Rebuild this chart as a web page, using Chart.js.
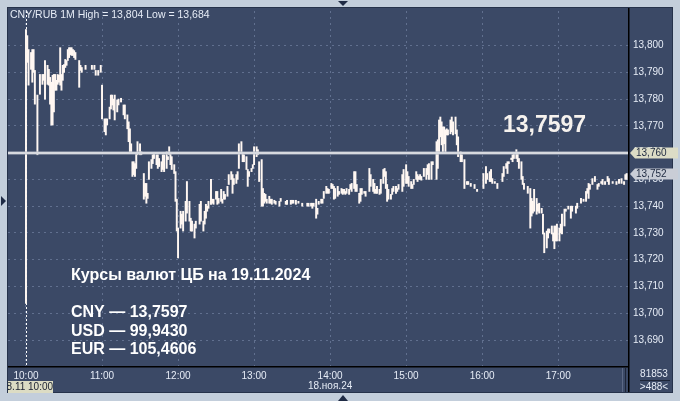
<!DOCTYPE html>
<html>
<head>
<meta charset="utf-8">
<script src="https://cdn.jsdelivr.net/npm/chart.js@4.4.1/dist/chart.umd.min.js"></script>
<style>
  html, body { margin: 0; padding: 0; background: #c3cedb; }
  canvas { display: block; }
</style>
</head>
<body>
<canvas id="chart" width="680" height="401"></canvas>
<script>
// minutes after 10:00, 1M bars of CNY/RUB (low / high)
const minutes = [0,1,2,4,5,6,7,9,11,13,14,15,17,18,19,20,21,22,23,24,25,26,27,28,29,30,31,32,33,34,35,36,37,38,39,42,43,44,47,52,54,55,57,59,
  60,62,63,64,66,67,68,69,70,72,73,75,77,78,80,81,82,83,84,85,86,87,88,90,91,93,94,95,96,97,99,100,101,103,104,105,107,108,109,111,112,113,114,115,117,118,119,
  120,122,123,124,126,127,129,130,131,133,134,137,138,140,141,142,143,144,146,147,148,150,151,152,154,155,156,157,159,160,162,163,164,166,167,168,170,171,172,174,175,176,178,179,
  180,182,183,184,186,187,188,189,190,192,193,194,196,197,200,201,205,206,209,210,211,213,215,218,222,223,225,226,227,229,230,231,233,234,235,237,238,239,
  241,242,243,244,246,247,249,250,251,252,253,255,256,257,259,260,261,263,264,265,267,268,271,272,274,275,276,277,279,280,282,283,284,285,286,288,289,290,292,293,294,297,298,
  300,301,302,304,305,306,308,309,310,311,312,314,316,317,318,320,321,324,325,326,327,328,329,330,331,332,333,335,336,337,339,340,341,343,344,346,348,349,351,354,356,
  361,363,364,366,367,368,370,372,376,377,379,380,381,383,384,385,387,388,389,391,392,393,396,398,399,400,401,403,404,405,407,408,409,411,412,413,415,416,417,418,419,
  421,422,423,425,426,428,430,431,434,435,438,440,442,443,444,445,447,449,451,452,454,455,457,459,460,463,466,468,470,472,473,474];

const lows = [13.7037,13.7937,13.7852,13.7911,13.7863,13.7900,13.7781,13.7592,13.7818,13.7855,13.7870,13.7800,13.7855,13.7852,13.7781,13.7703,13.7703,13.7752,13.7833,13.7833,13.7855,13.7863,13.7852,13.7833,13.7870,13.7900,13.7918,13.7926,13.7944,13.7955,13.7966,13.7963,13.7963,13.7955,13.7948,13.7844,13.7907,13.7900,13.7911,13.7911,13.7911,13.7889,13.7889,13.7900,
  13.7726,13.7678,13.7666,13.7703,13.7726,13.7763,13.7778,13.7759,13.7722,13.7752,13.7778,13.7789,13.7741,13.7726,13.7689,13.7641,13.7603,13.7596,13.7511,13.7518,13.7511,13.7541,13.7592,13.7592,13.7592,13.7426,13.7437,13.7411,13.7429,13.7500,13.7541,13.7559,13.7578,13.7555,13.7541,13.7548,13.7529,13.7537,13.7529,13.7541,13.7574,13.7592,13.7555,13.7537,13.7522,13.7418,13.7307,
  13.7207,13.7318,13.7333,13.7307,13.7344,13.7374,13.7344,13.7307,13.7307,13.7281,13.7318,13.7333,13.7344,13.7307,13.7333,13.7355,13.7381,13.7392,13.7407,13.7411,13.7407,13.7426,13.7407,13.7411,13.7418,13.7411,13.7426,13.7426,13.7437,13.7481,13.7500,13.7448,13.7481,13.7485,13.7500,13.7541,13.7596,13.7566,13.7566,13.7537,13.7474,13.7511,13.7529,13.7541,
  13.7555,13.7585,13.7592,13.7492,13.7400,13.7400,13.7411,13.7418,13.7411,13.7411,13.7411,13.7407,13.7411,13.7407,13.7400,13.7418,13.7407,13.7407,13.7407,13.7411,13.7411,13.7407,13.7411,13.7400,13.7400,13.7400,13.7400,13.7392,13.7400,13.7355,13.7370,13.7407,13.7411,13.7411,13.7429,13.7448,13.7448,13.7448,
  13.7466,13.7466,13.7426,13.7429,13.7437,13.7444,13.7448,13.7444,13.7448,13.7444,13.7448,13.7444,13.7463,13.7455,13.7466,13.7455,13.7455,13.7411,13.7418,13.7444,13.7448,13.7437,13.7455,13.7474,13.7455,13.7448,13.7448,13.7448,13.7444,13.7448,13.7485,13.7511,13.7466,13.7418,13.7426,13.7426,13.7444,13.7455,13.7448,13.7455,13.7463,13.7455,13.7474,
  13.7485,13.7485,13.7474,13.7466,13.7466,13.7481,13.7500,13.7492,13.7500,13.7500,13.7497,13.7511,13.7500,13.7518,13.7500,13.7500,13.7555,13.7500,13.7541,13.7603,13.7659,13.7629,13.7603,13.7633,13.7603,13.7666,13.7666,13.7670,13.7678,13.7666,13.7670,13.7629,13.7585,13.7566,13.7566,13.7466,13.7481,13.7481,13.7474,13.7466,13.7455,
  13.7466,13.7485,13.7500,13.7492,13.7492,13.7485,13.7485,13.7466,13.7492,13.7511,13.7541,13.7522,13.7559,13.7574,13.7566,13.7578,13.7578,13.7566,13.7541,13.7500,13.7481,13.7463,13.7448,13.7318,13.7363,13.7374,13.7381,13.7370,13.7381,13.7374,13.7374,13.7296,13.7226,13.7244,13.7281,13.7300,13.7296,13.7270,13.7241,13.7270,13.7270,
  13.7270,13.7300,13.7296,13.7326,13.7381,13.7389,13.7355,13.7381,13.7374,13.7392,13.7411,13.7418,13.7418,13.7448,13.7429,13.7463,13.7481,13.7492,13.7463,13.7474,13.7485,13.7481,13.7481,13.7492,13.7481,13.7485,13.7481,13.7485,13.7485,13.7481,13.7500,13.7500];

const highs = [13.8060,13.8037,13.7985,13.7974,13.7985,13.7985,13.7907,13.7815,13.7892,13.7892,13.7892,13.7944,13.7926,13.7911,13.7881,13.7863,13.7889,13.7892,13.7892,13.7870,13.7892,13.7889,13.7992,13.7892,13.7926,13.7929,13.7948,13.7944,13.7985,13.7992,13.7992,13.7992,13.7985,13.7981,13.7974,13.7944,13.7926,13.7918,13.7926,13.7926,13.7926,13.7907,13.7907,13.7926,
  13.7852,13.7726,13.7726,13.7726,13.7770,13.7815,13.7815,13.7800,13.7815,13.7796,13.7800,13.7803,13.7778,13.7778,13.7741,13.7715,13.7689,13.7633,13.7566,13.7566,13.7559,13.7596,13.7641,13.7633,13.7603,13.7522,13.7485,13.7485,13.7448,13.7566,13.7574,13.7592,13.7596,13.7592,13.7592,13.7578,13.7566,13.7592,13.7592,13.7603,13.7585,13.7622,13.7596,13.7585,13.7555,13.7529,13.7426,
  13.7318,13.7381,13.7370,13.7381,13.7418,13.7492,13.7418,13.7355,13.7344,13.7333,13.7344,13.7407,13.7418,13.7344,13.7381,13.7407,13.7400,13.7418,13.7500,13.7426,13.7426,13.7455,13.7455,13.7429,13.7463,13.7426,13.7455,13.7444,13.7474,13.7518,13.7529,13.7518,13.7503,13.7518,13.7529,13.7633,13.7641,13.7596,13.7592,13.7585,13.7537,13.7529,13.7541,13.7555,
  13.7622,13.7622,13.7611,13.7566,13.7574,13.7466,13.7448,13.7444,13.7426,13.7437,13.7426,13.7426,13.7422,13.7418,13.7418,13.7429,13.7418,13.7422,13.7422,13.7422,13.7422,13.7422,13.7418,13.7411,13.7411,13.7411,13.7411,13.7411,13.7411,13.7426,13.7392,13.7418,13.7426,13.7426,13.7455,13.7474,13.7466,13.7463,
  13.7485,13.7481,13.7474,13.7466,13.7474,13.7455,13.7466,13.7463,13.7463,13.7455,13.7466,13.7463,13.7481,13.7485,13.7529,13.7529,13.7481,13.7448,13.7466,13.7466,13.7455,13.7455,13.7541,13.7518,13.7500,13.7485,13.7463,13.7474,13.7463,13.7500,13.7537,13.7541,13.7529,13.7481,13.7463,13.7444,13.7466,13.7474,13.7474,13.7466,13.7481,13.7518,13.7537,
  13.7555,13.7529,13.7511,13.7492,13.7481,13.7500,13.7529,13.7518,13.7511,13.7518,13.7511,13.7541,13.7541,13.7555,13.7559,13.7566,13.7566,13.7641,13.7648,13.7722,13.7733,13.7715,13.7696,13.7696,13.7685,13.7689,13.7685,13.7722,13.7733,13.7715,13.7733,13.7685,13.7659,13.7603,13.7592,13.7574,13.7492,13.7492,13.7485,13.7481,13.7463,
  13.7522,13.7548,13.7522,13.7529,13.7537,13.7503,13.7492,13.7485,13.7522,13.7548,13.7559,13.7566,13.7566,13.7578,13.7592,13.7596,13.7611,13.7596,13.7578,13.7566,13.7511,13.7485,13.7474,13.7466,13.7429,13.7418,13.7463,13.7429,13.7407,13.7411,13.7392,13.7370,13.7300,13.7307,13.7315,13.7315,13.7326,13.7300,13.7326,13.7326,13.7333,
  13.7318,13.7333,13.7370,13.7389,13.7389,13.7400,13.7400,13.7400,13.7400,13.7411,13.7429,13.7426,13.7455,13.7466,13.7485,13.7481,13.7503,13.7511,13.7481,13.7485,13.7492,13.7500,13.7492,13.7511,13.7503,13.7492,13.7492,13.7500,13.7503,13.7492,13.7518,13.7522];

const hourTicks = [0, 60, 120, 180, 240, 300, 360, 420];
const hourLabels = ['10:00', '11:00', '12:00', '13:00', '14:00', '15:00', '16:00', '17:00'];
const priceTicks = [13.69, 13.70, 13.71, 13.72, 13.73, 13.74, 13.75, 13.76, 13.77, 13.78, 13.79, 13.80];

const cbrRate = 13.7597;
const lastPrice = 13.752;
const headerText = 'CNY/RUB 1M High = 13,804 Low = 13,684';
const ratesTitle = 'Курсы валют ЦБ на 19.11.2024';
const ratesLines = ['CNY — 13,7597', 'USD — 99,9430', 'EUR — 105,4606'];
const dateLabel = '18.ноя.24';
const cursorLabel = '18.11 10:00';
const volumeText = '81853';
const countText = '>488<';

const fmt = v => v.toFixed(3).replace('.', ',');
const FONT = '"Liberation Sans", Arial, sans-serif';

const terminal = {
    id: 'terminal',
    beforeDraw(chart) {
        const c = chart.ctx;
        c.save();
        c.fillStyle = '#c3cedb';
        c.fillRect(0, 0, 680, 401);
        c.fillStyle = '#3b4966';
        c.fillRect(8, 8, 664, 384);
        c.strokeStyle = '#26324a';
        c.lineWidth = 1;
        c.strokeRect(7.5, 7.5, 665, 385);
        // small arrows on the frame
        c.fillStyle = '#1f2b45';
        c.beginPath(); c.moveTo(338, 1); c.lineTo(348, 1); c.lineTo(343, 6); c.fill();
        c.beginPath(); c.moveTo(338, 401); c.lineTo(348, 401); c.lineTo(343, 395); c.fill();
        c.beginPath(); c.moveTo(1, 196); c.lineTo(6, 201); c.lineTo(1, 206); c.fill();
        c.restore();
    },
    beforeDatasetsDraw(chart) {
        const c = chart.ctx, a = chart.chartArea;
        const x0 = Math.round(chart.scales.x.getPixelForValue(0)) + 0.5;
        c.save();
        c.strokeStyle = '#ffffff';
        c.lineWidth = 1;
        c.setLineDash([2, 2]);
        c.beginPath(); c.moveTo(x0, a.top); c.lineTo(x0, a.bottom); c.stroke();
        c.restore();
    },
    afterDatasetsDraw(chart) {
        const c = chart.ctx, a = chart.chartArea;
        const ys = chart.scales.y, xs = chart.scales.x;
        c.save();

        // CBR rate line
        const yr = Math.round(ys.getPixelForValue(cbrRate));
        c.fillStyle = '#aeb3bf';
        c.fillRect(a.left, yr - 1.5, a.right - a.left, 3);
        c.fillStyle = '#ffffff';
        c.fillRect(a.left, yr - 0.5, a.right - a.left, 1);

        // frame lines
        c.fillStyle = '#000000';
        c.fillRect(a.right, 8, 1.5, 384);
        c.fillRect(8, a.bottom, a.right - 8, 1.5);
        c.fillStyle = '#5c6985';
        c.fillRect(a.right - 6, a.bottom + 2, 1, 392 - a.bottom - 2);
        c.fillStyle = '#1d2538';
        c.fillRect(a.right - 3, a.bottom + 2, 1, 392 - a.bottom - 2);

        // header
        c.fillStyle = '#e6ecf6';
        c.font = '10.5px ' + FONT;
        c.textBaseline = 'middle';
        c.textAlign = 'left';
        c.fillText(headerText, 10, 15);

        // big rate label
        c.fillStyle = '#f6f2ee';
        c.font = 'bold 23px ' + FONT;
        c.textBaseline = 'alphabetic';
        c.fillText(cbrRate.toFixed(4).replace('.', ','), 503, 132);

        // rates block
        c.fillStyle = '#ffffff';
        c.font = 'bold 16px ' + FONT;
        c.fillText(ratesTitle, 71, 280);
        ratesLines.forEach((t, i) => c.fillText(t, 71, 317 + i * 18.5));

        // right-side price tags
        const tag = (v, fill) => {
            const y = Math.round(ys.getPixelForValue(v));
            c.fillStyle = fill;
            c.beginPath();
            c.moveTo(a.right + 2, y);
            c.lineTo(a.right + 7, y - 5.5);
            c.lineTo(678, y - 5.5);
            c.lineTo(678, y + 5.5);
            c.lineTo(a.right + 7, y + 5.5);
            c.closePath();
            c.fill();
            c.fillStyle = '#1e2940';
            c.font = '10px ' + FONT;
            c.textBaseline = 'middle';
            c.fillText(fmt(v), a.right + 8, y + 0.5);
        };
        tag(lastPrice, '#c9cdd6');
        tag(cbrRate, '#dcdcc6');

        // bottom strip labels
        c.textBaseline = 'middle';
        c.font = '10px ' + FONT;
        c.fillStyle = '#e6ecf6';
        c.textAlign = 'center';
        c.fillText(dateLabel, xs.getPixelForValue(240), 386);
        c.fillText(volumeText, 654, 374);
        c.fillText(countText, 654, 387);
        c.fillStyle = '#1d2538';
        c.fillRect(640, 380, 30, 1);

        // cursor time label
        const xc = xs.getPixelForValue(0);
        c.beginPath();
        c.rect(8, 370, 200, 30);
        c.clip();
        c.fillStyle = '#dcdcc4';
        c.fillRect(xc - 30, 381, 57, 12);
        c.fillStyle = '#1a2030';
        c.textAlign = 'left';
        c.fillText(cursorLabel, xc - 25, 387.5);
        c.restore();
    }
};

const ctx = document.getElementById('chart').getContext('2d');

new Chart(ctx, {
    type: 'bar',
    data: {
        datasets: [{
            data: minutes.map((m, i) => ({ x: m, y: [lows[i], highs[i]] })),
            backgroundColor: '#fff7f2',
            borderWidth: 0,
            barThickness: 1.3,
            minBarLength: 1.5,
            grouped: false
        }]
    },
    options: {
        responsive: false,
        animation: false,
        devicePixelRatio: 1,
        layout: { padding: { left: 8, top: 8, right: 8, bottom: 9 } },
        plugins: { legend: { display: false }, tooltip: { enabled: false } },
        scales: {
            x: {
                type: 'linear',
                offset: false,
                min: -14.2,
                max: 475.1,
                afterBuildTicks: s => { s.ticks = hourTicks.map(v => ({ value: v })); },
                afterFit: s => { s.height = 26; },
                grid: { color: '#61708f', drawTicks: false, offset: false },
                border: { display: false, dash: [2, 4] },
                ticks: {
                    padding: 4,
                    color: '#e6ecf6',
                    font: { family: FONT, size: 10 },
                    maxRotation: 0,
                    autoSkip: false,
                    callback: v => hourLabels[hourTicks.indexOf(v)]
                }
            },
            y: {
                position: 'right',
                min: 13.6803,
                max: 13.8129,
                afterBuildTicks: s => { s.ticks = priceTicks.map(v => ({ value: v })); },
                afterFit: s => { s.width = 44; },
                grid: { color: '#61708f', drawTicks: false },
                border: { display: false, dash: [2, 4] },
                ticks: {
                    padding: 5,
                    color: '#e6ecf6',
                    font: { family: FONT, size: 10 },
                    callback: v => fmt(v)
                }
            }
        }
    },
    plugins: [terminal]
});
</script>
</body>
</html>
